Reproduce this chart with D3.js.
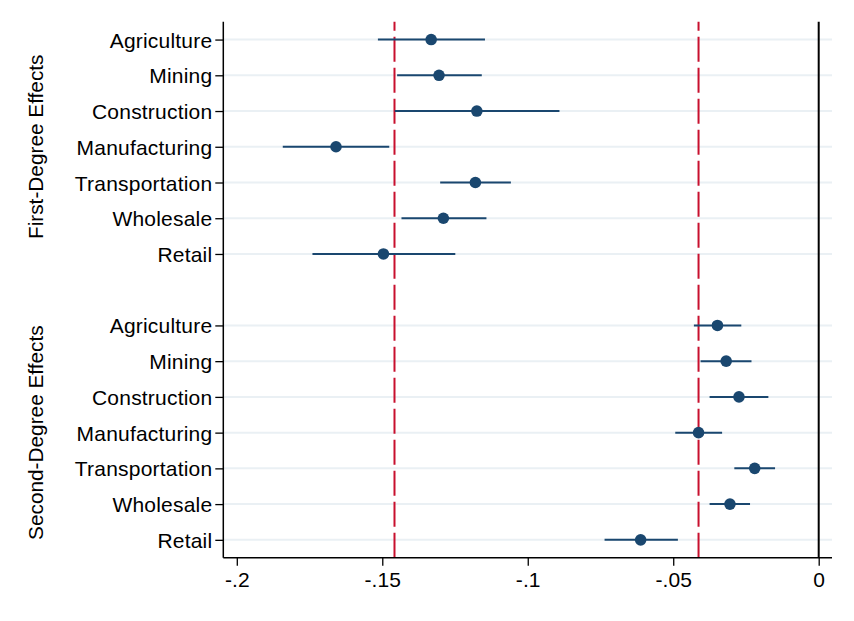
<!DOCTYPE html>
<html>
<head>
<meta charset="utf-8">
<script src="https://cdn.jsdelivr.net/npm/d3@7"></script>
<style>
  html, body { margin: 0; padding: 0; background: #fff; }
  svg { display: block; }
  text { font-family: "Liberation Sans", Arial, Helvetica, sans-serif; fill: #000; }
</style>
</head>
<body>
<svg id="chart" width="854" height="621"></svg>
<script>
// ---- Data ----
const industries = ["Agriculture", "Mining", "Construction", "Manufacturing", "Transportation", "Wholesale", "Retail"];
const groups = ["First-Degree Effects", "Second-Degree Effects"];

const firstEst = [-0.1332, -0.1305, -0.1175, -0.1659, -0.1180, -0.1290, -0.1496];
const firstLo  = [-0.1515, -0.1449, -0.1457, -0.1842, -0.1301, -0.1434, -0.1740];
const firstHi  = [-0.1147, -0.1158, -0.0891, -0.1476, -0.1058, -0.1142, -0.1249];

const secondEst = [-0.0348, -0.0318, -0.0274, -0.0413, -0.0220, -0.0305, -0.0612];
const secondLo  = [-0.0429, -0.0406, -0.0375, -0.0493, -0.0290, -0.0375, -0.0736];
const secondHi  = [-0.0266, -0.0231, -0.0173, -0.0332, -0.0150, -0.0236, -0.0484];

const refLines = [-0.1458, -0.0413];
const xTicks = [-0.2, -0.15, -0.1, -0.05, 0];
const xTickLabels = ["-.2", "-.15", "-.1", "-.05", "0"];

(function () {
// ---- Build rows ----
const rows = [];
industries.forEach((name, i) => rows.push({ name, slot: i, est: firstEst[i], lo: firstLo[i], hi: firstHi[i] }));
industries.forEach((name, i) => rows.push({ name, slot: i + 8, est: secondEst[i], lo: secondLo[i], hi: secondHi[i] }));

// ---- Layout ----
const svg = d3.select("#chart");
const pLeft = 223.3, pRight = 832, pTop = 21.7, pBottom = 557.7;

const x = d3.scaleLinear().domain([-0.20464, 0.00457]).range([pLeft, pRight]);
const y = d3.scaleLinear().domain([-0.5, 14.5]).range([pTop, pBottom]);

const navy = "#1a476f";
const red = "#c8102e";

// gridlines
svg.append("g").selectAll("line").data(rows).join("line")
  .attr("x1", pLeft).attr("x2", pRight)
  .attr("y1", d => y(d.slot)).attr("y2", d => y(d.slot))
  .attr("stroke", "#eaf0f4").attr("stroke-width", 2);

// reference lines (red dashed)
svg.append("g").selectAll("line").data(refLines).join("line")
  .attr("x1", d => x(d)).attr("x2", d => x(d))
  .attr("y1", pTop).attr("y2", pBottom)
  .attr("stroke", red).attr("stroke-width", 2)
  .attr("stroke-dasharray", "25,6").attr("stroke-dashoffset", 16);

// zero line
svg.append("line")
  .attr("x1", x(0)).attr("x2", x(0))
  .attr("y1", pTop).attr("y2", pBottom)
  .attr("stroke", "#000").attr("stroke-width", 2);

// CI lines
svg.append("g").selectAll("line").data(rows).join("line")
  .attr("x1", d => x(d.lo)).attr("x2", d => x(d.hi))
  .attr("y1", d => y(d.slot)).attr("y2", d => y(d.slot))
  .attr("stroke", navy).attr("stroke-width", 2);

// points
svg.append("g").selectAll("circle").data(rows).join("circle")
  .attr("cx", d => x(d.est)).attr("cy", d => y(d.slot))
  .attr("r", 5.8).attr("fill", navy);

// y axis
const yAxis = d3.axisLeft(y)
  .tickValues(rows.map(d => d.slot))
  .tickFormat(s => rows.find(r => r.slot === s).name)
  .tickSize(8).tickPadding(3).tickSizeOuter(0);
const gy = svg.append("g").attr("transform", `translate(${pLeft},0)`).call(yAxis);
gy.select(".domain").attr("stroke", "#000").attr("stroke-width", 1.5)
  .attr("d", `M0,${pTop}V${pBottom}`);
gy.selectAll(".tick line").attr("stroke", "#000").attr("stroke-width", 1.3);
gy.selectAll(".tick text")
  .style("font-family", '"Liberation Sans", Arial, sans-serif')
  .style("font-size", "21px").style("letter-spacing", "0.2px")
  .attr("fill", "#000").attr("dy", "0.36em");

// x axis
const xAxis = d3.axisBottom(x)
  .tickValues(xTicks)
  .tickFormat((d, i) => xTickLabels[i])
  .tickSize(8).tickPadding(6).tickSizeOuter(0);
const gx = svg.append("g").attr("transform", `translate(0,${pBottom})`).call(xAxis);
gx.select(".domain").attr("stroke", "#000").attr("stroke-width", 1.5)
  .attr("d", `M${pLeft},0H${pRight}`);
gx.selectAll(".tick line").attr("stroke", "#000").attr("stroke-width", 1.3);
gx.selectAll(".tick text")
  .style("font-family", '"Liberation Sans", Arial, sans-serif')
  .style("font-size", "21px").style("letter-spacing", "0.1px")
  .attr("fill", "#000");

// group titles
const groupCenters = [y(3), y(11)];
svg.append("g").selectAll("text").data(groups).join("text")
  .attr("transform", (d, i) => `translate(43,${groupCenters[i]}) rotate(-90)`)
  .attr("text-anchor", "middle")
  .style("font-size", "20.8px")
  .text(d => d);
})();
</script>
</body>
</html>
